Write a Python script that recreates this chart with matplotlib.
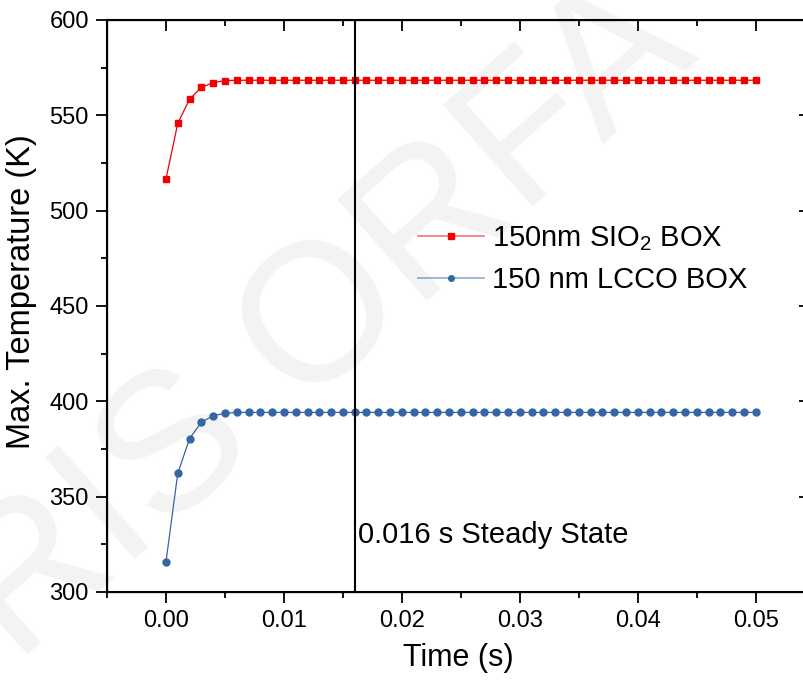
import numpy as np
import matplotlib
matplotlib.use("Agg")
import matplotlib.pyplot as plt
from matplotlib.lines import Line2D
from matplotlib.legend_handler import HandlerTuple
from matplotlib.ticker import MultipleLocator

plt.rcParams["font.family"] = ["Liberation Sans", "DejaVu Sans"]
plt.rcParams["mathtext.fontset"] = "custom"
plt.rcParams["mathtext.rm"] = "Liberation Sans"

# Data (time in s, temperature in K)
time = np.arange(51) * 0.001
sio2_head = [516.6, 545.8, 558.5, 564.6, 567.2, 568.2]
lcco_head = [315.8, 362.2, 380.5, 389.0, 392.5, 393.7]
sio2_steady = 568.4
lcco_steady = 394.2
sio2_temp = sio2_head + [sio2_steady] * (len(time) - len(sio2_head))
lcco_temp = lcco_head + [lcco_steady] * (len(time) - len(lcco_head))

steady_time = 0.016
labels = [r"150nm SIO$_\mathregular{2}$ BOX", "150 nm LCCO BOX"]
red = "#f20000"
blue = "#3466a3"

fig = plt.figure(figsize=(8.04, 6.82), dpi=100)

# faint watermark behind the plot
fig.text(0.403, 0.526, "RIS ORFA", fontsize=141, color="#f3f3f3",
         rotation=41.5, ha="center", va="center", zorder=-5)

ax = fig.add_axes([107 / 804, 90 / 682, 703 / 804, 572 / 682])
ax.patch.set_alpha(0)

ax.plot(time, sio2_temp, color=red, lw=0.9, marker="s", ms=4.5, mec=red)
ax.plot(time, lcco_temp, color=blue, lw=0.9, marker="o", ms=5, mec=blue)
ax.axvline(steady_time, color="black", lw=1.5)
ax.text(steady_time + 0.0003, 325.7, "0.016 s Steady State", fontsize=21,
        va="baseline", ha="left")

ax.set_xlim(-0.005, 0.0546)
ax.set_ylim(300, 600)
ax.xaxis.set_major_formatter(lambda v, p: f"{v:.2f}")

ax.tick_params(which="both", direction="out", width=1.3, labelsize=17)
ax.tick_params(which="major", length=8, pad=5)
ax.tick_params(which="minor", length=4)
for s in ax.spines.values():
    s.set_linewidth(1.5)

# inward ticks on the top and right sides (twin axes share the limits)
ax_top = ax.twiny()
ax_right = ax.twinx()
ax_top.set_xlim(ax.get_xlim())
ax_right.set_ylim(ax.get_ylim())
for a in (ax, ax_top, ax_right):
    a.xaxis.set_major_locator(MultipleLocator(0.01))
    a.xaxis.set_minor_locator(MultipleLocator(0.005))
    a.yaxis.set_major_locator(MultipleLocator(50))
    a.yaxis.set_minor_locator(MultipleLocator(25))
ax_top.tick_params(axis="x", which="both", direction="in", width=1.3,
                   labeltop=False)
ax_top.tick_params(axis="x", which="major", length=8)
ax_top.tick_params(axis="x", which="minor", length=4)
ax_right.tick_params(axis="y", which="both", direction="in", width=1.3,
                     labelright=False)
ax_right.tick_params(axis="y", which="major", length=8)
ax_right.tick_params(axis="y", which="minor", length=4)

ax.set_xlabel("Time (s)", fontsize=22, labelpad=8)
ax.set_ylabel("Max. Temperature (K)", fontsize=23.5)
ax.yaxis.set_label_coords(-0.099, 0.525)

handles = [
    (Line2D([], [], color=red, lw=1.2, alpha=0.55),
     Line2D([], [], ls="none", marker="s", ms=4, color=red)),
    (Line2D([], [], color=blue, lw=1.2, alpha=0.55),
     Line2D([], [], ls="none", marker="o", ms=4, color=blue)),
]
fig.legend(handles, labels, handler_map={tuple: HandlerTuple(ndivide=1)},
           loc="center left", bbox_to_anchor=(418 / 804, 1 - 259.5 / 682),
           frameon=False, fontsize=21, handlelength=2.25, handletextpad=0.3,
           labelspacing=0.45, borderpad=0, borderaxespad=0)

fig.savefig("out.png", dpi=100)
